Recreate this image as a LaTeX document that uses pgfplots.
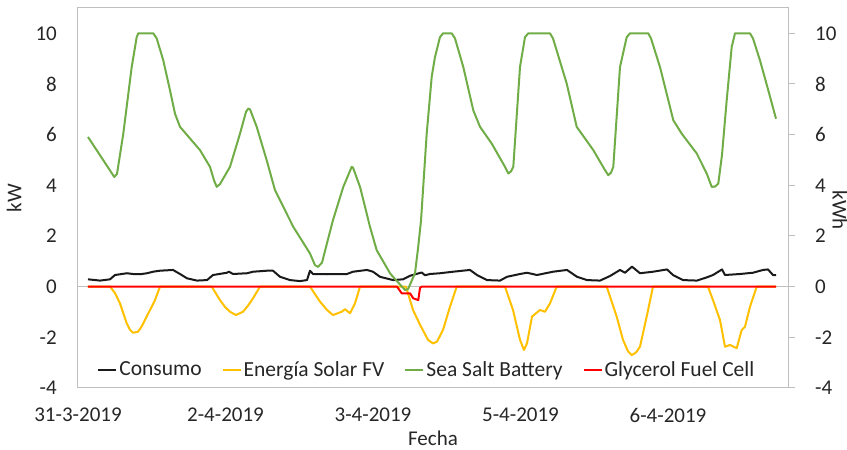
\documentclass[border=0pt]{standalone}
\usepackage{pgfplots}
\pgfplotsset{compat=1.18}
\usepackage{fontspec}
\setmainfont{Carlito}
\definecolor{consumo}{HTML}{1A1A1A}
\definecolor{solar}{HTML}{FFC000}
\definecolor{bateria}{HTML}{70AD47}
\definecolor{celda}{HTML}{FF0000}
\definecolor{marco}{HTML}{BFBFBF}

\begin{document}
\fontsize{21}{25}\selectfont
\begin{tikzpicture}
\path[use as bounding box] (-78pt,-62pt) rectangle (769pt,388pt);
\begin{axis}[
    scale only axis,
    width=710pt, height=380pt,
    xmin=78, xmax=788,
    ymin=-4, ymax=11,
    axis line style={marco, line width=1pt},
    ytick={-4,-2,...,10},
    xtick={78,225.5,373,520.5,668},
    xticklabels={31-3-2019,2-4-2019,3-4-2019,5-4-2019,6-4-2019},
    tick style={draw=none},
    extra y ticks={0},
    extra y tick labels={},
    extra y tick style={grid=major, major grid style={marco, line width=1pt}, tick style={draw=none}},
    /pgf/number format/assume math mode=true,
    tick label style={font=\fontsize{21}{25}\selectfont, text=black!85},
    yticklabel style={xshift=-14pt},
    xticklabel style={yshift=-13pt},
    xlabel={Fecha},
    xlabel style={at={(axis description cs:0.5,-0.133)}, anchor=center, inner sep=0pt},
    ylabel={kW},
    label style={font=\fontsize{21}{25}\selectfont, text=black!85},
    legend columns=4,
    legend style={draw=none, fill=none, at={(0.027,0.047)}, anchor=west,
        inner sep=0pt, font=\fontsize{21.5}{25}\selectfont, text=black!85,
        column sep=0pt,
        /tikz/every even column/.append style={column sep=18pt}},
    legend image code/.code={\draw[#1] (0pt,0pt) -- (18pt,0pt);},
    every axis plot/.append style={line width=2pt, line join=round},
]
\addplot[consumo] coordinates {
(88,0.29) (100,0.24) (110,0.29) (115,0.46) (127,0.53) (133,0.50) (140,0.49)
(147,0.53) (153,0.59) (160,0.63) (173,0.66) (180,0.50) (187,0.33) (197,0.24)
(207,0.26) (213,0.46) (227,0.55) (229,0.59) (233,0.50) (247,0.53) (253,0.59)
(267,0.63) (273,0.63) (280,0.39) (290,0.26) (300,0.22) (307,0.26) (310,0.63)
(313,0.50) (327,0.49) (347,0.50) (353,0.59) (367,0.66) (373,0.59) (380,0.39)
(393,0.26) (403,0.29) (410,0.43) (421.7,0.56) (425,0.45) (430,0.50) (440,0.53)
(453,0.59) (470,0.66) (477,0.46) (487,0.26) (500,0.24) (507,0.39) (520,0.50)
(527,0.55) (537,0.46) (553,0.59) (567,0.66) (577,0.39) (587,0.26) (600,0.24)
(610,0.42) (620,0.66) (625,0.55) (632,0.79) (640,0.53) (653,0.59) (667,0.68)
(673,0.46) (683,0.26) (697,0.24) (707,0.37) (713,0.46) (722,0.68) (725,0.46)
(740,0.50) (753,0.55) (763,0.66) (768,0.68) (773,0.46) (776,0.46)
};
\addlegendentry{Consumo}
\addplot[solar] coordinates {
(88,0) (110,0) (115,-0.25) (120,-0.66) (126.7,-1.45) (130,-1.7) (133,-1.82)
(138,-1.78) (142,-1.55) (146.7,-1.18) (155,-0.53) (160,0)
(211.7,0) (220,-0.53) (225,-0.8) (230,-0.99) (236,-1.12) (243,-0.99)
(248,-0.75) (253,-0.46) (260,0)
(310,0) (320,-0.59) (327,-0.92) (333,-1.12) (341.7,-0.99) (345,-0.89)
(350,-1.05) (355,-0.66) (360,0)
(406,0) (413,-0.92) (420,-1.5) (428,-2.1) (433,-2.24) (437,-2.17) (443,-1.71)
(450,-0.79) (456.7,0)
(505,0) (513,-0.92) (520,-2.1) (524,-2.5) (527,-2.24) (532,-1.18) (540,-0.92)
(545,-0.99) (550,-0.66) (556.7,0)
(606.7,0) (616.7,-1.18) (623,-2.1) (628,-2.55) (631.7,-2.7) (636,-2.6)
(640,-2.37) (646.7,-1.18) (653,0)
(708,0) (713,-0.53) (720,-1.32) (725,-2.37) (730,-2.3) (736.7,-2.43)
(741.7,-1.71) (745,-1.58) (750,-0.79) (756.7,0) (776,0)
};
\addlegendentry{Energía Solar FV}
\addplot[bateria] coordinates {
(88,5.91) (114.3,4.33) (117,4.45) (123.3,6.04) (131.7,8.67) (136.7,9.85)
(138.3,10) (153.3,10) (156.7,9.8) (163.3,8.93) (170,7.75) (175,6.83) (180,6.31)
(200,5.39) (210,4.73) (214,4.2) (216.7,3.94) (220,4.05) (230,4.73) (240,6.04)
(246,6.9) (248.3,7.03) (250,7.0) (256.7,6.31) (266.7,4.99) (275,3.81)
(293.3,2.36) (310,1.31) (315,0.85) (318,0.78) (322,0.95) (333,2.63)
(343.3,3.94) (351.7,4.73) (353,4.7) (360,3.94) (370,2.36) (376.7,1.44)
(390,0.53) (393,0.39) (405,-0.13) (408,-0.1) (415,0.53) (418,1.5) (421,2.6)
(426.7,6.04) (431.7,8.28) (435,9.07) (440,9.85) (443,10) (451.7,10) (455,9.8)
(463.3,8.67) (473.3,6.96) (480,6.31) (491.7,5.65) (505,4.73) (508.3,4.47)
(511,4.55) (513.3,4.73) (520,8.67) (525,9.85) (528.3,10) (550,10) (553,9.8)
(566.7,8.02) (576.7,6.31) (593.3,5.39) (605,4.6) (608.3,4.4) (611,4.5)
(613.3,4.73) (620,8.67) (626.7,9.85) (630,10) (648.3,10) (651,9.8) (660,8.67)
(673.3,6.57) (681.7,6.04) (696.7,5.26) (706.7,4.47) (711.7,3.94) (715,3.95)
(718.3,4.07) (722,5.2) (726.7,7.36) (731.7,9.46) (735,10) (750,10) (753,9.8)
(760,8.93) (768.3,7.75) (776,6.63)
};
\addlegendentry{Sea Salt Battery}
\addplot[celda] coordinates {
(88,0) (397,0) (401.7,-0.26) (410,-0.26) (413.3,-0.46) (418.3,-0.53)
(420,-0.05) (421.7,0) (776,0)
};
\addlegendentry{Glycerol Fuel Cell}
\end{axis}
\begin{axis}[
    scale only axis,
    width=710pt, height=380pt,
    xmin=78, xmax=788,
    ymin=-4, ymax=11,
    axis x line=none,
    axis y line*=right,
    axis line style={marco, line width=1pt},
    ytick={-4,-2,...,10},
    tick align=outside,
    major tick length=7pt,
    tick style={marco, line width=1pt},
    /pgf/number format/assume math mode=true,
    tick label style={font=\fontsize{21}{25}\selectfont, text=black!85},
    yticklabel style={xshift=13pt},
    ylabel={kWh},
    ylabel style={at={(axis description cs:1.073,0.468)}, anchor=center, rotate=180,
        font=\fontsize{21}{25}\selectfont, text=black!85},
]
\end{axis}
\end{tikzpicture}
\end{document}
